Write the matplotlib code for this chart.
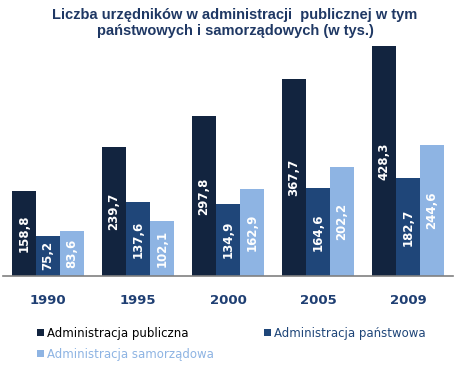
import numpy as np
import matplotlib
matplotlib.use('Agg')
import matplotlib.pyplot as plt

# dane z wykresu (tys.)
years = ['1990', '1995', '2000', '2005', '2009']
publiczna = [158.8, 239.7, 297.8, 367.7, 428.3]
panstwowa = [75.2, 137.6, 134.9, 164.6, 182.7]
samorzadowa = [83.6, 102.1, 162.9, 202.2, 244.6]
series_names = ['Administracja publiczna', 'Administracja państwowa', 'Administracja samorządowa']

colors = ['#12243f', '#1f4679', '#8eb4e3']
text_colors = ['#000000', '#1f4679', '#8eb4e3']

fig = plt.figure(figsize=(4.56, 3.70), dpi=100)
ax = fig.add_axes([3 / 456, 94 / 370, 450 / 456, 236 / 370])

x = np.arange(len(years))
w = 24 / 90
bars = []
for i, vals in enumerate([publiczna, panstwowa, samorzadowa]):
    b = ax.bar(x + (i - 1) * w, vals, w, color=colors[i], label=series_names[i])
    bars.append(b)
    for xi, v in zip(x + (i - 1) * w, vals):
        ax.text(xi, v / 2, f'{v:.1f}'.replace('.', ','), rotation=90,
                ha='center', va='center', color='white', fontsize=8.5,
                fontweight='bold')

ax.set_xlim(-0.5, len(years) - 0.5)
ax.set_ylim(0, 428.3 * 236 / 230)
for s in ['top', 'right', 'left']:
    ax.spines[s].set_visible(False)
ax.spines['bottom'].set_color('#808080')
ax.spines['bottom'].set_linewidth(1.2)
ax.set_yticks([])
ax.set_xticks(x)
ax.set_xticklabels(years, fontsize=9.5, fontweight='bold', color='#1f3f73')
ax.tick_params(axis='x', length=0, pad=13)

fig.text(235 / 456, 1 - 23 / 370,
         'Liczba urzędników w administracji  publicznej w tym\npaństwowych i samorządowych (w tys.)',
         ha='center', va='center', fontsize=10.5, fontweight='bold',
         family='Liberation Sans', color='#1f3864', linespacing=1.2)

handles = [bars[0], bars[2], bars[1]]
labels = [series_names[0], series_names[2], series_names[1]]
leg = fig.legend(handles, labels, ncol=2, loc='upper left',
                 bbox_to_anchor=(26 / 456, 1 - 316 / 370), frameon=False,
                 handlelength=0.6, handleheight=0.6, handletextpad=0.3,
                 columnspacing=4.2, labelspacing=0.7, fontsize=8.5)
for t, c in zip(leg.get_texts(), [text_colors[0], text_colors[2], text_colors[1]]):
    t.set_color(c)

fig.savefig('out.png', dpi=100)
